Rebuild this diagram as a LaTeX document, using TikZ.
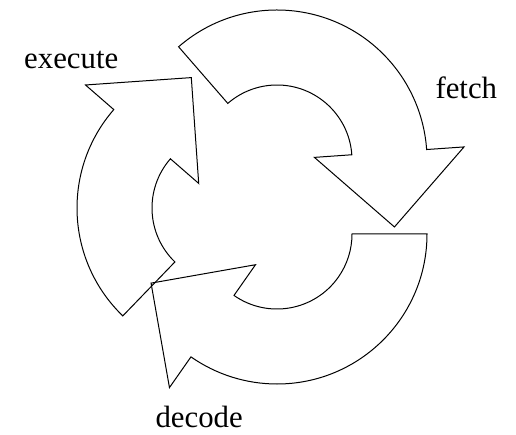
\documentclass[tikz,border=0pt]{standalone}
\usepackage{fontspec}
\setmainfont{Liberation Serif}
\usepackage{tikz}
\tikzset{
    stagearrow/.style={draw=black, line width=1pt, line join=miter},
    stagelabel/.style={font=\fontsize{30.8}{36}\selectfont, inner sep=0pt, anchor=base}
}
% #1 centre, #2 tail angle, #3 angle where the head starts
\newcommand{\cyclearrow}[3]{%
    \draw[stagearrow, shift={#1}] (#2:75) -- (#2:150)
        arc[start angle=#2, end angle=#3, radius=150]
        -- (#3:187.5) -- ({#3-33.69}:135.2) -- (#3:37.5) -- (#3:75)
        arc[start angle=#3, end angle=#2, radius=75] -- cycle;}

\begin{document}
\begin{tikzpicture}[x=1pt, y=1pt]
    \useasboundingbox (0,0) rectangle (516,-435);

    \cyclearrow{(277,-160)}{131}{4}
    \cyclearrow{(277,-234)}{0}{-125}
    \cyclearrow{(227,-208)}{226}{139}

    \node (fetch) [stagelabel] at (466.3,-99) {fetch};
    \node (decode) [stagelabel] at (199.2,-427) {decode};
    \node (execute) [stagelabel] at (71.2,-69) {execute};
\end{tikzpicture}
\end{document}
